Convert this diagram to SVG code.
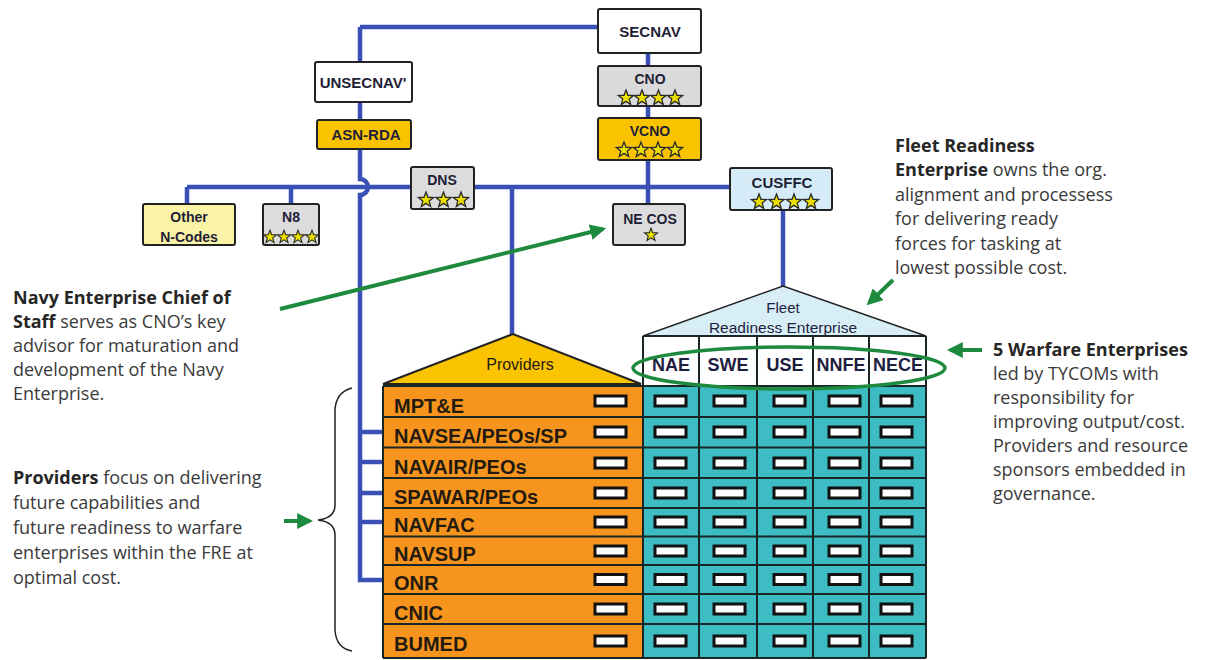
<svg xmlns="http://www.w3.org/2000/svg" width="1207" height="660" viewBox="0 0 1207 660">
<style>
.bl{fill:none;stroke:#3a50b4;stroke-width:4.5}
.gr{fill:none;stroke:#1e8a3e;stroke-width:4}
.box{stroke:#222;stroke-width:2}
.lbl{font-family:"Liberation Sans",Arial,sans-serif;font-weight:bold;fill:#1e1e36;text-anchor:middle}
.note{font-family:"Open Sans","Noto Sans",sans-serif;font-size:18px;fill:#3a3a3a}
.note tspan.b{font-weight:bold;fill:#262626}
.prov{font-family:"Liberation Sans",Arial,sans-serif;font-weight:bold;font-size:20px;fill:#231a10}
.slot{fill:#fff;stroke:#111;stroke-width:3}
.grid{fill:none;stroke:#1a2626;stroke-width:2}
.hdr{font-family:"Liberation Sans",Arial,sans-serif;font-weight:bold;font-size:18px;fill:#1e1e40;text-anchor:middle}
</style>
<defs>
<path id="star" d="M0,-8 L2,-2.75 L7.61,-2.47 L3.23,1.05 L4.7,6.47 L0,3.4 L-4.7,6.47 L-3.23,1.05 L-7.61,-2.47 L-2,-2.75Z" fill="#ece000" stroke="#2a2a2a" stroke-width="1.3"/>
<marker id="ah" viewBox="0 0 10 10" refX="8" refY="5" markerWidth="4" markerHeight="4" orient="auto" markerUnits="strokeWidth">
<path d="M0,0 L10,5 L0,10 Z" fill="#1e8a3e"/>
</marker>
</defs>
<rect width="1207" height="660" fill="#fff"/>

<g id="connectors">
<path class="bl" d="M360,27 H600"/>
<path class="bl" d="M360,27 V179 A8,8 0 0 1 360,195 V580 H383"/>
<path class="bl" d="M360,432 H383 M360,462 H383 M360,493 H383 M360,522 H383"/>
<path class="bl" d="M187,187 H730"/>
<path class="bl" d="M187,187 V205 M291,187 V205"/>
<path class="bl" d="M648,53 V205"/>
<path class="bl" d="M512,187 V335"/>
<path class="bl" d="M783,210 V286"/>
</g>

<g id="secnav"><rect class="box" x="598" y="9" width="103" height="44" rx="2" fill="#fff"/><text class="lbl" x="650" y="37" font-size="15">SECNAV</text></g>
<g id="unsecnav"><rect class="box" x="315" y="62" width="97" height="40" rx="2" fill="#fff"/><text class="lbl" x="363" y="88" font-size="15">UNSECNAV'</text></g>
<g id="asnrda"><rect class="box" x="317" y="120" width="94" height="29" rx="2" fill="#f9c300"/><text class="lbl" x="366" y="140" font-size="15">ASN-RDA</text></g>
<g id="cno"><rect class="box" x="598" y="66" width="103" height="40" rx="2" fill="#dadada"/><text class="lbl" x="650" y="84" font-size="14">CNO</text>
<use href="#star" x="626" y="98"/><use href="#star" x="642" y="98"/><use href="#star" x="658.5" y="98"/><use href="#star" x="675" y="98"/></g>
<g id="vcno"><rect class="box" x="598" y="118" width="103" height="42" rx="2" fill="#f9c300"/><text class="lbl" x="650" y="136" font-size="14">VCNO</text>
<use href="#star" x="624" y="150"/><use href="#star" x="641" y="150"/><use href="#star" x="658" y="150"/><use href="#star" x="675" y="150"/></g>
<g id="othern"><rect class="box" x="143" y="204" width="92" height="41" rx="2" fill="#fbf3a6"/><text class="lbl" x="189" y="222" font-size="14">Other</text><text class="lbl" x="189" y="242" font-size="14">N-Codes</text></g>
<g id="n8"><rect class="box" x="263" y="204" width="56" height="41" rx="2" fill="#dcdcdc"/><text class="lbl" x="291" y="222" font-size="14">N8</text>
<g transform="translate(270,237) scale(0.85)"><use href="#star"/></g><g transform="translate(284,237) scale(0.85)"><use href="#star"/></g><g transform="translate(298,237) scale(0.85)"><use href="#star"/></g><g transform="translate(312,237) scale(0.85)"><use href="#star"/></g></g>
<g id="dns"><rect class="box" x="411" y="167" width="63" height="42" rx="2" fill="#dcdcdc"/><text class="lbl" x="442" y="185" font-size="14">DNS</text>
<use href="#star" x="426" y="200"/><use href="#star" x="443.5" y="200"/><use href="#star" x="461" y="200"/></g>
<g id="necos"><rect class="box" x="613" y="204" width="72" height="41" rx="2" fill="#dcdcdc"/><text class="lbl" x="650" y="224" font-size="14">NE COS</text>
<g transform="translate(651,235) scale(0.85)"><use href="#star"/></g></g>
<g id="cusffc"><rect class="box" x="730" y="168" width="102" height="42" rx="2" fill="#d5ecf8"/><text class="lbl" x="782" y="188" font-size="15">CUSFFC</text>
<use href="#star" x="759" y="202"/><use href="#star" x="776.5" y="202"/><use href="#star" x="794" y="202"/><use href="#star" x="811" y="202"/></g>

<g id="providers">
<polygon points="383,384 513,334 641,384" fill="#fbc400" stroke="#222" stroke-width="2"/>
<text x="520" y="370" font-family="Liberation Sans,Arial,sans-serif" font-size="16" fill="#1e1a10" text-anchor="middle">Providers</text>
<rect x="383" y="386" width="260" height="272" fill="#f7941d"/>
<path class="grid" d="M383,386 H643 M383,417 H643 M383,447.5 H643 M383,478 H643 M383,508 H643 M383,536.5 H643 M383,565 H643 M383,594 H643 M383,624 H643 M383,658 H643 M383,386 V658 M643,386 V658"/>
<text class="prov" x="394" y="412.5">MPT&amp;E</text>
<text class="prov" x="394" y="443">NAVSEA/PEOs/SP</text>
<text class="prov" x="394" y="474">NAVAIR/PEOs</text>
<text class="prov" x="394" y="503.5">SPAWAR/PEOs</text>
<text class="prov" x="394" y="532">NAVFAC</text>
<text class="prov" x="394" y="560.5">NAVSUP</text>
<text class="prov" x="394" y="589.5">ONR</text>
<text class="prov" x="394" y="619.5">CNIC</text>
<text class="prov" x="394" y="651">BUMED</text>
<g class="slot">
<rect x="595" y="396" width="31" height="10"/><rect x="595" y="427" width="31" height="10"/><rect x="595" y="458" width="31" height="10"/><rect x="595" y="488" width="31" height="10"/><rect x="595" y="517" width="31" height="10"/><rect x="595" y="546" width="31" height="10"/><rect x="595" y="574.5" width="31" height="10"/><rect x="595" y="604" width="31" height="10"/><rect x="595" y="636" width="31" height="10"/>
</g>
</g>

<g id="fre">
<polygon points="643,336 783,286 926,336" fill="#d7eef7" stroke="#222" stroke-width="1.5"/>
<text x="783" y="313" font-family="Liberation Sans,Arial,sans-serif" font-size="15" fill="#1e1e40" text-anchor="middle">Fleet</text>
<text x="783" y="333" font-family="Liberation Sans,Arial,sans-serif" font-size="15.5" fill="#1e1e40" text-anchor="middle">Readiness Enterprise</text>
<rect x="643" y="336" width="283" height="50" fill="#fff"/>
<rect x="643" y="386" width="283" height="272" fill="#3dbcc3"/>
<path class="grid" d="M643,336 H926 M643,386 H926 M643,417 H926 M643,447.5 H926 M643,478 H926 M643,508 H926 M643,536.5 H926 M643,565 H926 M643,594 H926 M643,624 H926 M643,658 H926 M643,336 V658 M699,336 V658 M757,336 V658 M813,336 V658 M869,336 V658 M926,336 V658"/>
<text class="hdr" x="671" y="371">NAE</text>
<text class="hdr" x="728" y="371">SWE</text>
<text class="hdr" x="785" y="371">USE</text>
<text class="hdr" x="841" y="371">NNFE</text>
<text class="hdr" x="898" y="371">NECE</text>
<g class="slot">
<rect x="655" y="396" width="31" height="10"/><rect x="714" y="396" width="31" height="10"/><rect x="774" y="396" width="31" height="10"/><rect x="829" y="396" width="31" height="10"/><rect x="881" y="396" width="31" height="10"/>
<rect x="655" y="427" width="31" height="10"/><rect x="714" y="427" width="31" height="10"/><rect x="774" y="427" width="31" height="10"/><rect x="829" y="427" width="31" height="10"/><rect x="881" y="427" width="31" height="10"/>
<rect x="655" y="458" width="31" height="10"/><rect x="714" y="458" width="31" height="10"/><rect x="774" y="458" width="31" height="10"/><rect x="829" y="458" width="31" height="10"/><rect x="881" y="458" width="31" height="10"/>
<rect x="655" y="488" width="31" height="10"/><rect x="714" y="488" width="31" height="10"/><rect x="774" y="488" width="31" height="10"/><rect x="829" y="488" width="31" height="10"/><rect x="881" y="488" width="31" height="10"/>
<rect x="655" y="517" width="31" height="10"/><rect x="714" y="517" width="31" height="10"/><rect x="774" y="517" width="31" height="10"/><rect x="829" y="517" width="31" height="10"/><rect x="881" y="517" width="31" height="10"/>
<rect x="655" y="546" width="31" height="10"/><rect x="714" y="546" width="31" height="10"/><rect x="774" y="546" width="31" height="10"/><rect x="829" y="546" width="31" height="10"/><rect x="881" y="546" width="31" height="10"/>
<rect x="655" y="574.5" width="31" height="10"/><rect x="714" y="574.5" width="31" height="10"/><rect x="774" y="574.5" width="31" height="10"/><rect x="829" y="574.5" width="31" height="10"/><rect x="881" y="574.5" width="31" height="10"/>
<rect x="655" y="604" width="31" height="10"/><rect x="714" y="604" width="31" height="10"/><rect x="774" y="604" width="31" height="10"/><rect x="829" y="604" width="31" height="10"/><rect x="881" y="604" width="31" height="10"/>
<rect x="655" y="636" width="31" height="10"/><rect x="714" y="636" width="31" height="10"/><rect x="774" y="636" width="31" height="10"/><rect x="829" y="636" width="31" height="10"/><rect x="881" y="636" width="31" height="10"/>
</g>
<ellipse cx="789" cy="368" rx="156" ry="21" fill="none" stroke="#1e8a3e" stroke-width="3.5"/>
</g>

<g id="annotations">
<path class="gr" d="M280,309 L603,229" marker-end="url(#ah)"/>
<path class="gr" d="M893,280 L869,303" marker-end="url(#ah)"/>
<path class="gr" d="M982,350 L950,350" marker-end="url(#ah)"/>
<path class="gr" d="M284,521 L310,521" stroke-width="3.5" marker-end="url(#ah)"/>
<path d="M352,388 Q336,392 335,410 V505 Q335,518 318,520 Q335,522 335,535 V630 Q336,648 352,651" fill="none" stroke="#222" stroke-width="1.5"/>
</g>

<g id="note-fre">
<text class="note" x="895" y="152"><tspan class="b">Fleet Readiness</tspan></text>
<text class="note" x="895" y="176"><tspan class="b">Enterprise</tspan> owns the org.</text>
<text class="note" x="895" y="201">alignment and processess</text>
<text class="note" x="895" y="225">for delivering ready</text>
<text class="note" x="895" y="250">forces for tasking at</text>
<text class="note" x="895" y="274">lowest possible cost.</text>
</g>
<g id="note-warfare">
<text class="note" x="993" y="356"><tspan class="b">5 Warfare Enterprises</tspan></text>
<text class="note" x="993" y="380">led by TYCOMs with</text>
<text class="note" x="993" y="404">responsibility for</text>
<text class="note" x="993" y="428">improving output/cost.</text>
<text class="note" x="993" y="452">Providers and resource</text>
<text class="note" x="993" y="476">sponsors embedded in</text>
<text class="note" x="993" y="500">governance.</text>
</g>
<g id="note-necos">
<text class="note" x="13" y="304"><tspan class="b">Navy Enterprise Chief of</tspan></text>
<text class="note" x="13" y="328"><tspan class="b">Staff</tspan> serves as CNO’s key</text>
<text class="note" x="13" y="352">advisor for maturation and</text>
<text class="note" x="13" y="376">development of the Navy</text>
<text class="note" x="13" y="400">Enterprise.</text>
</g>
<g id="note-providers">
<text class="note" x="13" y="484"><tspan class="b">Providers</tspan> focus on delivering</text>
<text class="note" x="13" y="509">future capabilities and</text>
<text class="note" x="13" y="534">future readiness to warfare</text>
<text class="note" x="13" y="559">enterprises within the FRE at</text>
<text class="note" x="13" y="584">optimal cost.</text>
</g>
</svg>
